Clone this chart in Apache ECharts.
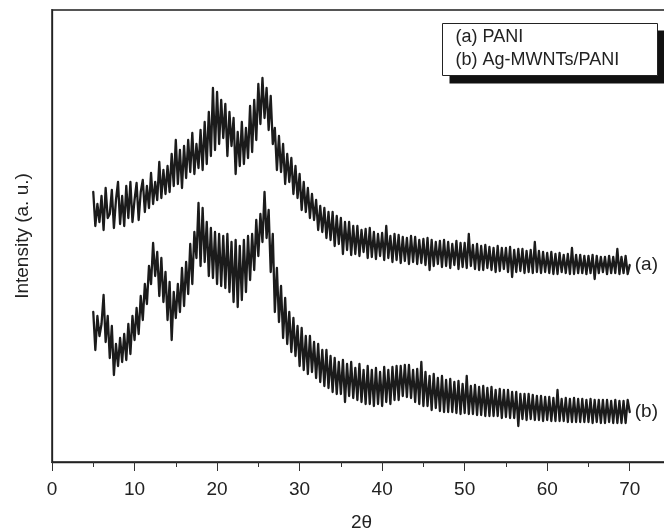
<!DOCTYPE html>
<html>
<head>
<meta charset="utf-8">
<script src="https://cdn.jsdelivr.net/npm/echarts@6/dist/echarts.min.js"></script>
<style>html,body{margin:0;padding:0;background:#fff;overflow:hidden;}#c{width:664px;height:530px;}</style>
</head>
<body>
<div id="c"></div>
<script>
// 2θ sampling positions (degrees)
var twoTheta = [
5,5.25,5.5,5.75,6,6.25,6.5,6.75,7,7.25,7.5,7.75,8,8.25,8.5,8.75,9,9.25,9.5,9.75,
10,10.25,10.5,10.75,11,11.25,11.5,11.75,12,12.25,12.5,12.75,13,13.25,13.5,13.75,14,14.25,14.5,14.75,
15,15.25,15.5,15.75,16,16.25,16.5,16.75,17,17.25,17.5,17.75,18,18.25,18.5,18.75,19,19.25,19.5,19.75,
20,20.25,20.5,20.75,21,21.25,21.5,21.75,22,22.25,22.5,22.75,23,23.25,23.5,23.75,24,24.25,24.5,24.75,
25,25.25,25.5,25.75,26,26.25,26.5,26.75,27,27.25,27.5,27.75,28,28.25,28.5,28.75,29,29.25,29.5,29.75,
30,30.25,30.5,30.75,31,31.25,31.5,31.75,32,32.25,32.5,32.75,33,33.25,33.5,33.75,34,34.25,34.5,34.75,
35,35.25,35.5,35.75,36,36.25,36.5,36.75,37,37.25,37.5,37.75,38,38.25,38.5,38.75,39,39.25,39.5,39.75,
40,40.25,40.5,40.75,41,41.25,41.5,41.75,42,42.25,42.5,42.75,43,43.25,43.5,43.75,44,44.25,44.5,44.75,
45,45.25,45.5,45.75,46,46.25,46.5,46.75,47,47.25,47.5,47.75,48,48.25,48.5,48.75,49,49.25,49.5,49.75,
50,50.25,50.5,50.75,51,51.25,51.5,51.75,52,52.25,52.5,52.75,53,53.25,53.5,53.75,54,54.25,54.5,54.75,
55,55.25,55.5,55.75,56,56.25,56.5,56.75,57,57.25,57.5,57.75,58,58.25,58.5,58.75,59,59.25,59.5,59.75,
60,60.25,60.5,60.75,61,61.25,61.5,61.75,62,62.25,62.5,62.75,63,63.25,63.5,63.75,64,64.25,64.5,64.75,
65,65.25,65.5,65.75,66,66.25,66.5,66.75,67,67.25,67.5,67.75,68,68.25,68.5,68.75,69,69.25,69.5,69.75,
70
];

// (a) PANI intensity (arbitrary units, offset trace)
var pani = [
270,236,258,240, 266,232,274,244, 248,272,234,262, 280,238,266,236, 276,244,280,240,
262,279,242,270, 282,250,276,254, 289,258,280,262, 300,264,292,268, 296,270,308,276,
322,278,312,274, 316,284,322,290, 329,288,318,294, 332,292,340,298, 350,306,374,312,
370,318,362,324, 358,306,350,316, 344,288,330,296, 340,298,334,304, 356,310,362,322,
378,338,384,344, 374,332,366,318, 334,292,326,290, 318,278,308,280, 304,268,296,264,
288,252,280,250, 274,244,268,242, 262,232,256,230, 254,224,250,222, 250,216,246,218,
244,208,240,212, 240,207,236,208, 236,206,232,210, 233,204,234,205, 230,203,228,206,
229,202,236,204, 226,200,228,202, 227,199,225,201, 224,198,226,200, 225,198,222,199,
223,197,224,192, 222,196,220,198, 221,195,222,196, 220,194,218,197, 221,193,219,195,
219,194,228,196, 217,193,218,192, 216,192,217,194, 215,192,214,190, 216,191,214,193,
214,190,215,185, 212,190,213,191, 213,189,211,190, 212,189,220,190, 211,189,210,190,
209,189,210,188, 208,188,209,190, 207,189,208,188, 214,188,207,189, 207,189,206,188,
206,189,207,183, 206,189,205,190, 205,188,206,189, 205,189,213,188, 205,189,206,188,
197
];

// (b) Ag-MWNTs/PANI intensity (arbitrary units)
var agPani = [
150,112,146,126, 138,167,120,146, 104,136,87,118, 96,124,100,128, 102,138,108,146,
122,154,128,166, 142,178,158,196, 178,219,186,210, 166,204,160,190, 142,180,122,170,
144,178,150,194, 156,200,168,218, 178,230,204,259, 196,254,200,240, 186,234,184,230,
178,228,176,226, 174,228,170,220, 160,222,155,216, 162,222,170,226, 182,228,192,242,
206,248,220,270, 224,252,190,228, 150,194,140,176, 124,164,118,150, 110,144,106,136,
96,134,92,126, 88,126,90,120, 84,118,80,112, 76,112,74,106, 70,104,68,100,
68,102,60,98, 66,100,64,94, 62,98,60,92, 58,96,58,92, 56,94,58,90,
56,95,60,92, 58,95,62,96, 62,96,66,97, 65,97,64,92, 60,93,58,100,
56,90,56,86, 52,88,54,84, 51,86,50,82, 50,83,50,80, 49,81,48,78,
49,86,48,76, 48,77,47,75, 47,76,46,74, 46,75,46,72, 46,73,44,72,
45,72,44,70, 44,70,36,68, 43,68,42,68, 43,67,42,66, 42,66,41,65,
42,65,41,64, 41,72,41,63, 41,64,40,63, 40,64,40,63, 40,63,40,62,
40,63,39,62, 40,62,39,62, 39,62,40,61, 39,62,39,61, 39,61,39,62,
50
];

var xTicks = [0,10,20,30,40,50,60,70];
var seriesNames = ['(a) PANI', '(b) Ag-MWNTs/PANI'];
var endTags = ['(a)', '(b)'];

function pairs(vals){ return vals.map(function(v,i){ return [twoTheta[i], v]; }); }

var FONT = 'Liberation Sans, Arial, sans-serif';
var chart = echarts.init(document.getElementById('c'), null, {renderer:'canvas'});

function mkSeries(name, vals, tag){
  return {
    name: name, type: 'line', data: pairs(vals), showSymbol: false, symbol: 'none',
    sampling: null, animation: false, silent: true,
    lineStyle: { color: '#1b1b1b', width: 2.3, join: 'round', cap: 'round' },
    endLabel: { show: true, formatter: tag, distance: 5, fontFamily: FONT, fontSize: 19, color: '#222' }
  };
}

chart.setOption({
  animation: false,
  backgroundColor: '#fff',
  grid: { left: 52, top: 10, width: 619, height: 452, outerBoundsMode: 'none', containLabel: false,
          show: true, borderColor: '#555', borderWidth: 2, backgroundColor: 'transparent' },
  xAxis: {
    type: 'value', min: 0, max: 75, interval: 10,
    name: '2\u03b8', nameLocation: 'middle', nameGap: 51,
    nameTextStyle: { fontFamily: FONT, fontSize: 19, color: '#222' },
    axisLine: { show: true, lineStyle: { color: '#222', width: 1.3 } },
    axisTick: { show: true, inside: false, length: 9, lineStyle: { color: '#333', width: 1 } },
    minorTick: { show: true, splitNumber: 2, length: 5, lineStyle: { color: '#333', width: 1 } },
    axisLabel: { fontFamily: FONT, fontSize: 19, color: '#222', margin: 18,
      formatter: function(v){ return xTicks.indexOf(v) >= 0 ? String(v) : ''; } },
    splitLine: { show: false }, minorSplitLine: { show: false }
  },
  yAxis: {
    type: 'value', min: 0, max: 452,
    name: 'Intensity (a. u.)', nameLocation: 'middle', nameGap: 20,
    nameTextStyle: { fontFamily: FONT, fontSize: 19, color: '#222' },
    axisLine: { show: true, lineStyle: { color: '#222', width: 1.3 } },
    axisTick: { show: false }, axisLabel: { show: false }, splitLine: { show: false }
  },
  series: [ mkSeries(seriesNames[0], pani, endTags[0]), mkSeries(seriesNames[1], agPani, endTags[1]) ],
  graphic: [{
    type: 'group', left: 442, top: 23, silent: true,
    children: [
      { type: 'rect', shape: { x: 7, y: 7, width: 215, height: 53 }, style: { fill: '#111' } },
      { type: 'rect', shape: { x: 0, y: 0, width: 215, height: 52 }, style: { fill: '#fff', stroke: '#222', lineWidth: 1 } },
      { type: 'text', x: 13, y: 14, style: { text: seriesNames[0], font: '18px ' + FONT, fill: '#222', verticalAlign: 'middle' } },
      { type: 'text', x: 13, y: 37, style: { text: seriesNames[1], font: '18px ' + FONT, fill: '#222', verticalAlign: 'middle' } }
    ]
  }]
});
</script>
</body>
</html>
